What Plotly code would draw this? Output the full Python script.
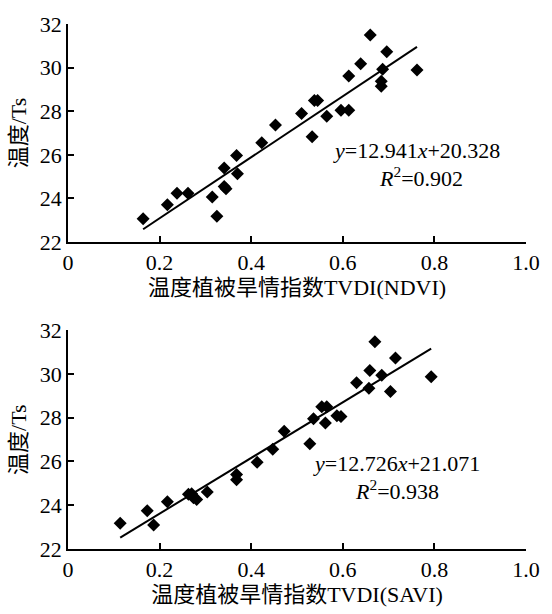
import plotly.graph_objects as go

# ---- data ----
ndvi_x = [0.164, 0.217, 0.238, 0.262, 0.315, 0.325, 0.341, 0.341, 0.345, 0.368,
          0.370, 0.423, 0.453, 0.510, 0.533, 0.538, 0.545, 0.565, 0.596, 0.613,
          0.613, 0.639, 0.660, 0.687, 0.684, 0.684, 0.696, 0.762]
ndvi_y = [23.07, 23.71, 24.24, 24.24, 24.07, 23.18, 25.40, 24.55, 24.44, 25.97,
          25.13, 26.56, 27.37, 27.90, 26.83, 28.49, 28.49, 27.77, 28.05, 28.05,
          29.62, 30.18, 31.49, 29.92, 29.37, 29.15, 30.73, 29.89]
ndvi_fit_x = [0.164, 0.762]
ndvi_fit_y = [22.59, 30.95]
ndvi_eq = "<i>y</i>=12.941<i>x</i>+20.328"
ndvi_r2 = "<i>R</i><sup>2</sup>=0.902"

savi_x = [0.114, 0.173, 0.187, 0.217, 0.263, 0.270, 0.274, 0.281, 0.304, 0.368,
          0.368, 0.413, 0.447, 0.472, 0.528, 0.536, 0.554, 0.565, 0.562, 0.587,
          0.596, 0.630, 0.657, 0.659, 0.670, 0.685, 0.704, 0.715, 0.793]
savi_y = [23.18, 23.75, 23.10, 24.16, 24.50, 24.53, 24.34, 24.26, 24.60, 25.41,
          25.16, 25.96, 26.56, 27.38, 26.81, 27.95, 28.50, 28.50, 27.76, 28.09,
          28.06, 29.60, 29.35, 30.16, 31.47, 29.94, 29.20, 30.73, 29.87]
savi_slope = 12.726
savi_intercept = 21.071
savi_fit_x = [0.114, 0.793]
savi_eq = "<i>y</i>=12.726<i>x</i>+21.071"
savi_r2 = "<i>R</i><sup>2</sup>=0.938"

x_ticks = [0, 0.2, 0.4, 0.6, 0.8, 1.0]
x_ticktext = ["0", "0.2", "0.4", "0.6", "0.8", "1.0"]
y_ticks = [22, 24, 26, 28, 30, 32]
x_title_top = "温度植被旱情指数TVDI(NDVI)"
x_title_bottom = "温度植被旱情指数TVDI(SAVI)"
y_title = "温度/Ts"

FONT = "Liberation Serif, 'Noto Sans CJK SC', serif"
FS = 22

fig = go.Figure()
marker = dict(symbol="diamond", size=10, color="black")
line = dict(color="black", width=2)

fig.add_trace(go.Scatter(x=ndvi_x, y=ndvi_y, mode="markers", marker=marker,
                         xaxis="x", yaxis="y", showlegend=False))
fig.add_trace(go.Scatter(x=ndvi_fit_x, y=ndvi_fit_y, mode="lines", line=line,
                         xaxis="x", yaxis="y", showlegend=False))
fig.add_trace(go.Scatter(x=savi_x, y=savi_y, mode="markers", marker=marker,
                         xaxis="x2", yaxis="y2", showlegend=False))
fig.add_trace(go.Scatter(x=savi_fit_x, y=[savi_slope * v + savi_intercept for v in savi_fit_x],
                         mode="lines", line=line,
                         xaxis="x2", yaxis="y2", showlegend=False))

xcommon = dict(range=[0, 1], tickvals=x_ticks, ticktext=x_ticktext,
               showline=True, linecolor="black", linewidth=1.5,
               ticks="inside", ticklen=6, tickwidth=1.5, tickcolor="black",
               showgrid=False, zeroline=False,
               tickfont=dict(family=FONT, size=FS, color="black"))
ycommon = dict(range=[22, 32], tickvals=y_ticks,
               showline=True, linecolor="black", linewidth=1.5,
               ticks="inside", ticklen=6, tickwidth=1.5, tickcolor="black",
               showgrid=False, zeroline=False,
               tickfont=dict(family=FONT, size=FS, color="black"),
               title=dict(text=y_title, font=dict(family=FONT, size=FS, color="black"),
                          standoff=7))

fig.update_layout(
    width=552, height=614,
    margin=dict(l=68, r=14, t=20, b=50),
    paper_bgcolor="white", plot_bgcolor="white",
    font=dict(family=FONT, size=FS, color="black"),
    xaxis=dict(domain=[0, 1], anchor="y",
               title=dict(text=x_title_top, font=dict(family=FONT, size=FS, color="black"), standoff=4),
               **xcommon),
    yaxis=dict(domain=[0.5846, 1.0], anchor="x", **ycommon),
    xaxis2=dict(domain=[0, 1], anchor="y2",
                title=dict(text=x_title_bottom, font=dict(family=FONT, size=FS, color="black"), standoff=4),
                **xcommon),
    yaxis2=dict(domain=[0, 0.4167], anchor="x2", **ycommon),
    annotations=[
        dict(x=0.76, y=26.2, xref="x", yref="y", text=ndvi_eq, showarrow=False,
             font=dict(family=FONT, size=FS, color="black")),
        dict(x=0.77, y=25.0, xref="x", yref="y", text=ndvi_r2, showarrow=False,
             font=dict(family=FONT, size=FS, color="black")),
        dict(x=0.717, y=25.9, xref="x2", yref="y2", text=savi_eq, showarrow=False,
             font=dict(family=FONT, size=FS, color="black")),
        dict(x=0.718, y=24.68, xref="x2", yref="y2", text=savi_r2, showarrow=False,
             font=dict(family=FONT, size=FS, color="black")),
    ],
)

fig.write_html("out.html", config={"displayModeBar": False},
               post_script="document.body.style.margin='0';")
